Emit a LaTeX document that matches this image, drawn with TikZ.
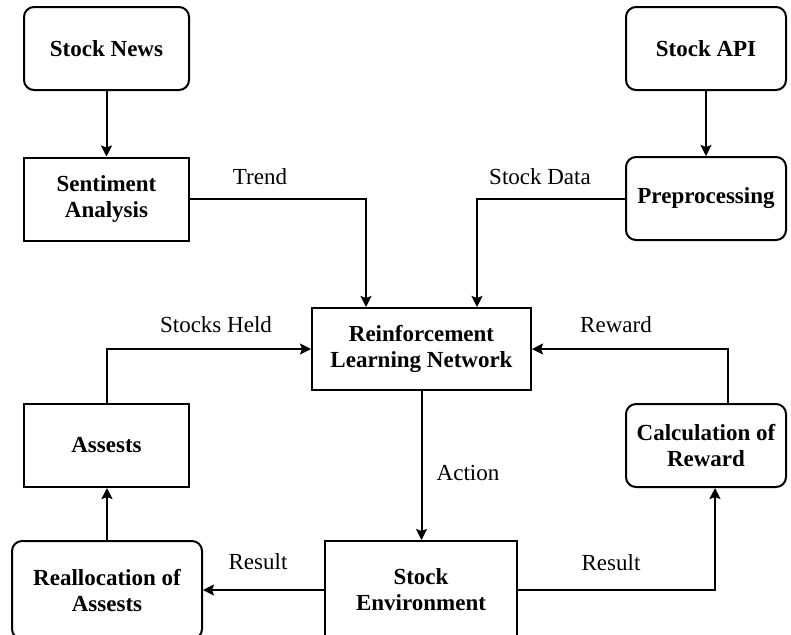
\documentclass[tikz,border=0pt]{standalone}
\usepackage{fontspec}
\setmainfont{Liberation Serif}
\usetikzlibrary{arrows.meta}

\begin{document}
\begin{tikzpicture}[x = .5pt, y = -.5pt, line width = 1pt,
  box/.style = {draw, align = center, inner sep = 0, font = \fontsize{11.5}{13}\selectfont\bfseries},
  rbox/.style = {box, rounded corners = 5pt},
  small/.style = {minimum width = 82.5pt, minimum height = 41.5pt},
  lbl/.style = {font = \fontsize{11.5}{13}\selectfont},
  conn/.style = {-{Stealth[length = 5.5pt, width = 5.5pt, inset = 1pt]}}]
 \useasboundingbox (0, 0) rectangle (791, 634);
 \clip (0, 0) rectangle (791, 634);
  \node [rbox, small] (news) at (106.5, 48.5) {Stock News};
  \node [box, small] (senti) at (106.5, 199) {Sentiment\\Analysis};
  \node [rbox, small, minimum width = 80pt] (api) at (706, 48.5) {Stock API};
  \node [rbox, small, minimum width = 80pt] (prep) at (706, 198.5) {Preprocessing};
  \node [box, minimum width = 109.5pt, minimum height = 41pt] (rln) at (421.5, 349) {Reinforcement\\Learning Network};
  \node [box, small] (assets) at (106.5, 445.5) {Assests};
  \node [rbox, small, minimum width = 80pt] (calc) at (706, 445.5) {Calculation of\\Reward};
  \node [rbox, minimum width = 95pt, minimum height = 49pt] (realloc) at (107, 590) {Reallocation of\\Assests};
  \node [box, minimum width = 96pt, minimum height = 49pt] (env) at (421, 590) {Stock\\Environment};
  \draw [conn] (news) -- (senti);
  \draw [conn] (api) -- (prep);
  \draw [conn] (senti.east) -| ([xshift = 27.5pt] rln.north west);
  \draw [conn] (prep.west) -| ([xshift = -27.5pt] rln.north east);
  \draw [conn] (assets.north) |- (rln.west);
  \draw [conn] ([xshift = 11pt] calc.north) |- (rln.east);
  \draw [conn] (rln.south) -- (rln.south |- env.north);
  \draw [conn] (env.west) -- (realloc.east);
  \draw [conn] (env.east) -| ([xshift = 4.5pt] calc.south);
  \draw [conn] (realloc.north) -- (realloc.north |- assets.south);
  \node [lbl] (trend) at (260, 177) {Trend};
  \node [lbl] (data) at (540, 177) {Stock Data};
  \node [lbl] (held) at (216, 325) {Stocks Held};
  \node [lbl] (reward) at (616, 325) {Reward};
  \node [lbl] (action) at (468, 473) {Action};
  \node [lbl] (resl) at (258, 562) {Result};
  \node [lbl] (resr) at (611, 563) {Result};
\end{tikzpicture}
\end{document}
